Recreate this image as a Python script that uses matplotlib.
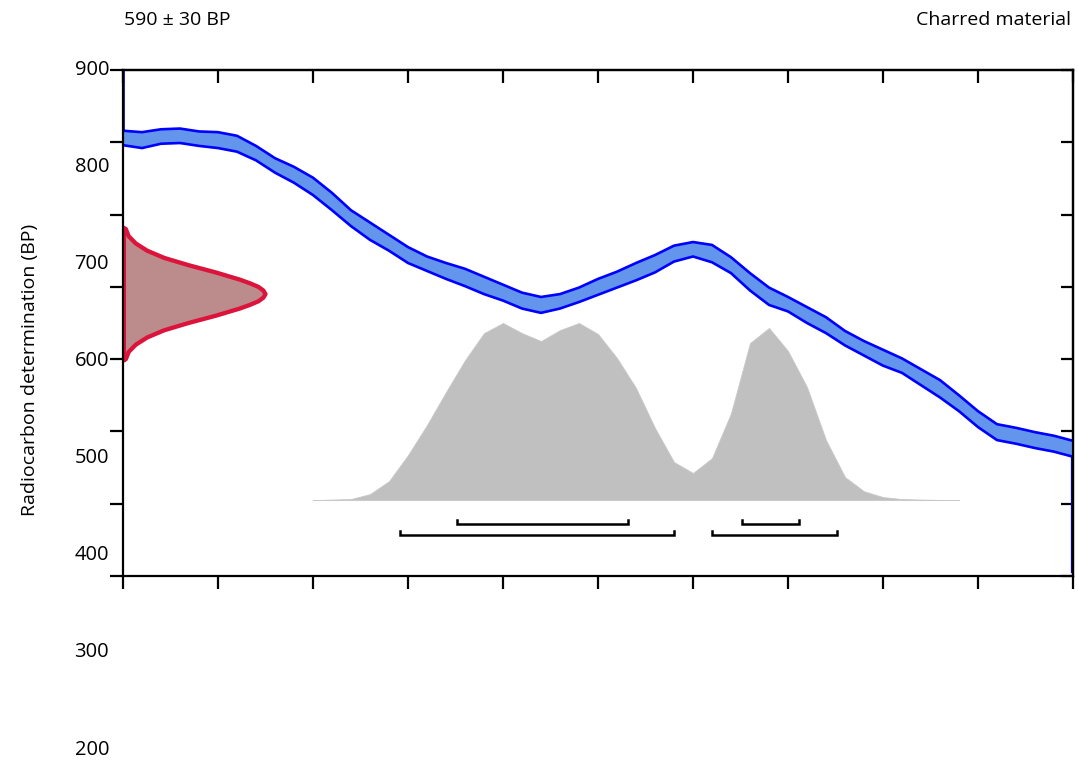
import numpy as np
import matplotlib
matplotlib.use('Agg')
import matplotlib.pyplot as plt

plt.rcParams['font.family'] = ['Open Sans', 'DejaVu Sans']

# ── Données ─────────────────────────────────────────────────────────────────
# Courbe de calibration (années cal AD, moyenne BP, erreur 1σ)
cal_years = np.arange(1230, 1481, 5)
cal_mean = [806, 803, 808, 809, 805, 803, 798, 785, 768, 755,
            739, 718, 695, 677, 661, 644, 632, 622, 613, 602,
            592, 581, 575, 580, 589, 600, 610, 621, 632, 646,
            652, 646, 630, 607, 587, 576, 561, 547, 529, 515,
            502, 491, 475, 459, 439, 417, 399, 394, 388, 383, 376]
cal_err = [10, 11, 10, 10, 10, 11, 11, 10, 10, 11,
           12, 12, 11, 12, 11, 11, 10, 11, 12, 12,
           11, 11, 11, 10, 10, 11, 11, 12, 12, 11,
           10, 12, 11, 12, 12, 10, 11, 11, 10, 10,
           11, 10, 11, 12, 11, 11, 11, 11, 11, 11, 11]

# Distribution calibrée (probabilité relative)
prob_years = np.arange(1280, 1451, 5)
prob_rel = [0.0, 0.003, 0.006, 0.034, 0.107, 0.254, 0.424, 0.61, 0.79, 0.943,
            1.0, 0.943, 0.898, 0.96, 1.0, 0.938, 0.802, 0.633, 0.407, 0.215,
            0.153, 0.237, 0.49, 0.887, 0.972, 0.842, 0.638, 0.339, 0.13, 0.05,
            0.017, 0.006, 0.003, 0.001, 0.0]

# Mesure radiocarbone 590 ± 30 BP
rc_values = [682, 680, 670, 660, 650, 640, 630, 620, 610, 605, 600, 595, 590,
             585, 580, 575, 570, 560, 550, 540, 530, 520, 510, 500, 498]
rc_density = [0, 0.02, 0.04, 0.09, 0.17, 0.29, 0.46, 0.65, 0.82, 0.89, 0.95, 0.985, 1.0,
              0.985, 0.95, 0.89, 0.82, 0.65, 0.46, 0.29, 0.17, 0.09, 0.04, 0.02, 0]

# Intervalles calibrés
range_68 = [(1318, 1363), (1393, 1408)]
range_95 = [(1303, 1375), (1385, 1418)]

y_labels = [900, 800, 700, 600, 500, 400, 300, 200]

# ── Figure ──────────────────────────────────────────────────────────────────
fig = plt.figure(figsize=(10.78, 7.60), dpi=100)
ax = fig.add_axes([123/1078, 1 - 576/760, 950/1078, 506/760])

x0, x1 = 1230, 1480
ax.set_xlim(x0, x1)
ax.set_ylim(200, 900)

cal_mean = np.array(cal_mean)
cal_err = np.array(cal_err)
ax.fill_between(cal_years, cal_mean - cal_err, cal_mean + cal_err,
                color='#6495ED', lw=0, zorder=2)
ax.plot(cal_years, cal_mean + cal_err, color='#0000FF', lw=1.9, zorder=3)
ax.plot(cal_years, cal_mean - cal_err, color='#0000FF', lw=1.9, zorder=3)
ax.plot([x0 + 0.3, x0 + 0.3], [cal_mean[0] + cal_err[0], 900], color='#0000CC', lw=1.2, zorder=3)
ax.plot([x1 - 0.3, x1 - 0.3], [cal_mean[-1] - cal_err[-1], 205], color='#0000CC', lw=1.6, zorder=3)

# distribution calibrée
base = 305
ax.fill_between(prob_years, base, base + np.array(prob_rel) * 245,
                color='#C0C0C0', edgecolor='#C8C8C8', lw=0.6, zorder=1)

# mesure
red_w = 37.5
rc_x = x0 + np.array(rc_density) * red_w
ax.fill_betweenx(rc_values, x0, rc_x, color='#BC8C8C', lw=0, zorder=4)
ax.plot(rc_x, rc_values, color='#DC143C', lw=3.1, zorder=5,
        solid_capstyle='round', solid_joinstyle='round')
ax.plot([x0 + 0.5, x0 + 0.5], [rc_values[0], rc_values[-1]], color='#DC143C', lw=1.5, zorder=5)

# intervalles
tick_h = 5.5
for ranges, yb in [(range_68, 272), (range_95, 257)]:
    for a, b in ranges:
        ax.plot([a, a, b, b], [yb + tick_h, yb, yb, yb + tick_h],
                color='black', lw=1.8, solid_joinstyle='miter', zorder=3)

# axes / graduations
for s in ax.spines.values():
    s.set_linewidth(1.6)
    s.set_zorder(6)
ax.set_xticks(np.linspace(x0, x1, 11))
ax.set_yticks(np.arange(200, 901, 100))
ax.tick_params(axis='both', direction='out', length=9.5, width=1.6,
               labelleft=False, labelbottom=False)
secx = ax.secondary_xaxis('top')
secx.set_xticks(np.linspace(x0, x1, 11))
secx.tick_params(direction='in', length=9, width=1.6, labeltop=False)
secy = ax.secondary_yaxis('right')
secy.set_yticks(np.arange(200, 901, 100))
secy.tick_params(direction='in', length=9, width=1.6, labelright=False)
for sa in (secx, secy):
    for s in sa.spines.values():
        s.set_linewidth(1.6)

# étiquettes de l'axe Y (espacement propre à la figure d'origine)
stretch = 1.343
for v in y_labels:
    yv = 900 - (900 - v) * stretch
    ax.annotate(str(v), xy=(0, yv), xycoords=ax.get_yaxis_transform(),
                xytext=(-14, 0), textcoords='offset pixels',
                ha='right', va='center', fontsize=14.5, annotation_clip=False)

fig.text(30/1078, 1 - 370/760, 'Radiocarbon determination (BP)', rotation=90,
         ha='center', va='center', fontsize=14)
fig.text(124/1078, 1 - 20/760, '590 ± 30 BP', ha='left', va='center', fontsize=14)
fig.text(1071/1078, 1 - 20/760, 'Charred material', ha='right', va='center', fontsize=14)

fig.savefig('out.png', dpi=100)
